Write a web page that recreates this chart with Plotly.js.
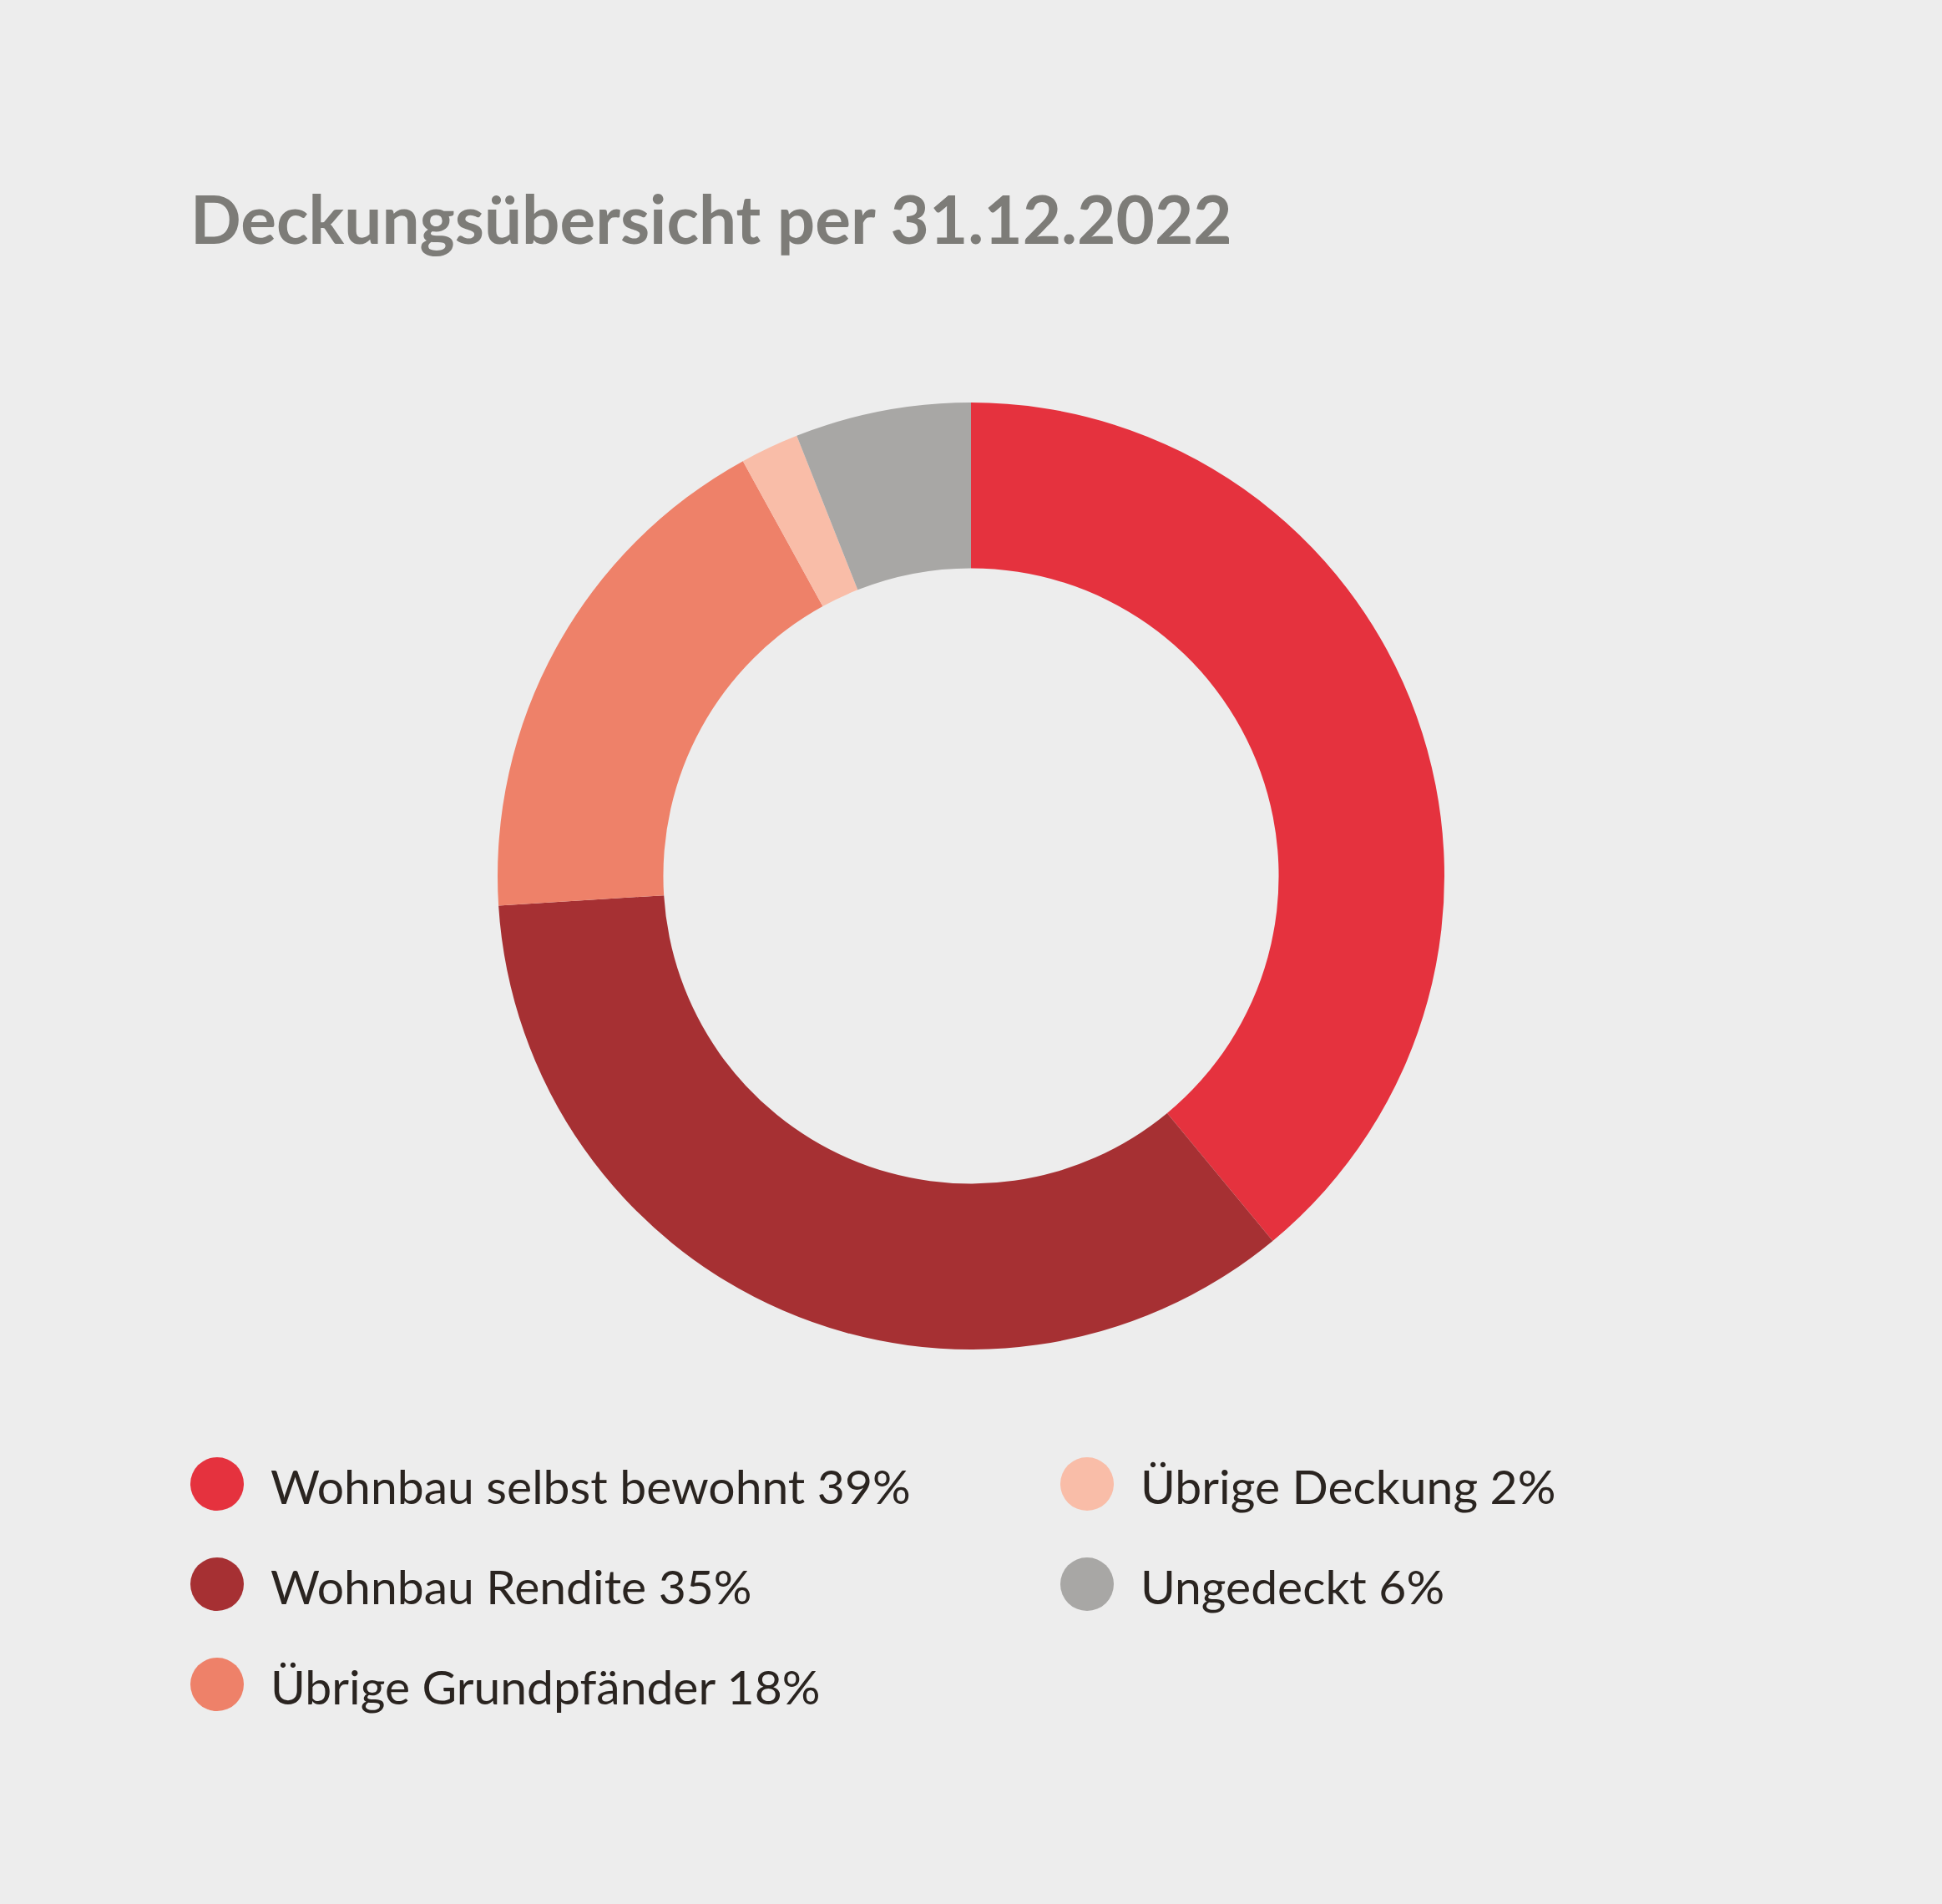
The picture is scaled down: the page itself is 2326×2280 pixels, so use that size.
<!DOCTYPE html>
<html>
<head>
<meta charset="utf-8">
<script src="https://cdn.plot.ly/plotly-3.0.1.min.js"></script>
<style>
  html, body { margin: 0; padding: 0; background: #ededed; }
  #chart { width: 2326px; height: 2280px; }
</style>
</head>
<body>
<div id="chart"></div>
<script>
// ---- Data ----
const labels = ["Wohnbau selbst bewohnt", "Wohnbau Rendite", "Übrige Grundpfänder", "Übrige Deckung", "Ungedeckt"];
const values = [39, 35, 18, 2, 6];
const colors = ["#e5323e", "#a63033", "#ee8169", "#f9bda8", "#a8a7a5"];
const titleText = "Deckungsübersicht per 31.12.2022";

// ---- Layout helpers (pixel -> paper) ----
const W = 2326, H = 2280;
const px = x => x / W;
const py = y => 1 - y / H;

// Donut geometry
const cx = 1163, cy = 1049, R = 567;

const trace = {
  type: "pie",
  labels: labels,
  values: values,
  marker: { colors: colors, line: { width: 0 } },
  hole: 0.65,
  sort: false,
  direction: "clockwise",
  rotation: 0,
  textinfo: "none",
  hoverinfo: "none",
  showlegend: false,
  domain: { x: [px(cx - R), px(cx + R)], y: [py(cy + R), py(cy - R)] }
};

// Legend: two columns (3 + 2 rows), built from the data arrays
const colX = [260, 1302];
const rowY = [1777, 1897, 2017];
const circR = 32;
const shapes = [];
const annotations = [];
labels.forEach((lab, i) => {
  const col = i < 3 ? 0 : 1;
  const row = i < 3 ? i : i - 3;
  const x = colX[col], y = rowY[row];
  shapes.push({
    type: "circle", xref: "paper", yref: "paper",
    x0: px(x - circR), x1: px(x + circR), y0: py(y + circR), y1: py(y - circR),
    fillcolor: colors[i], line: { width: 0 }
  });
  annotations.push({
    xref: "paper", yref: "paper",
    x: px(x + 62), y: py(y + 2),
    xanchor: "left", yanchor: "middle",
    showarrow: false,
    text: lab + " " + values[i] + "%",
    font: { family: "Lato, 'Noto Sans', sans-serif", size: 57, color: "#2a2420" }
  });
});

const layout = {
  width: W, height: H,
  margin: { l: 0, r: 0, t: 0, b: 0 },
  paper_bgcolor: "#ededed",
  plot_bgcolor: "#ededed",
  title: {
    text: "<b>" + titleText + "</b>",
    x: px(228), xanchor: "left", xref: "paper",
    y: py(264), yanchor: "middle", yref: "paper",
    font: { family: "Lato, 'Noto Sans', sans-serif", size: 80, weight: 900, color: "#7d7c78" }
  },
  shapes: shapes,
  annotations: annotations,
  showlegend: false
};

Plotly.newPlot("chart", [trace], layout, { displayModeBar: false, staticPlot: true });
</script>
</body>
</html>
